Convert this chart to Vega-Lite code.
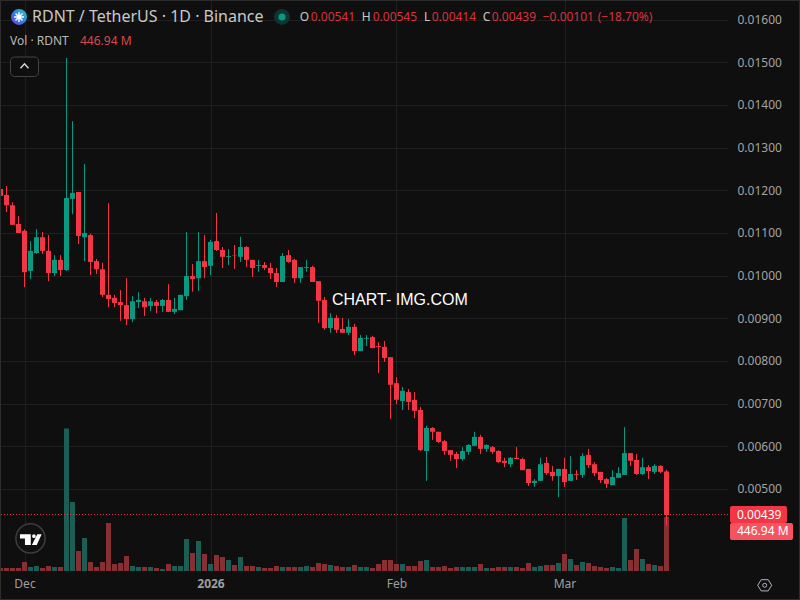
{
  "$schema": "https://vega.github.io/schema/vega-lite/v6.json",
  "width": 728,
  "height": 571,
  "autosize": {"type": "none"},
  "padding": {"left": 0, "top": 0, "right": 72, "bottom": 29},
  "background": "#0f0f0f",
  "config": {"view": {"stroke": null}, "font": "Noto Sans"},
  "datasets": {
    "one": [{}],
    "candles": [
      {"date":"2025-11-27","open":0.01203,"high":0.01203,"low":0.01187,"close":0.01187,"vol":24.8},
      {"date":"2025-11-28","open":0.01189,"high":0.0121,"low":0.01149,"close":0.01165,"vol":24.8},
      {"date":"2025-11-29","open":0.01165,"high":0.01172,"low":0.01119,"close":0.01119,"vol":24.8},
      {"date":"2025-11-30","open":0.01121,"high":0.0114,"low":0.011,"close":0.011,"vol":24.8},
      {"date":"2025-12-01","open":0.01105,"high":0.01109,"low":0.00973,"close":0.01008,"vol":74.5},
      {"date":"2025-12-02","open":0.01011,"high":0.01081,"low":0.00992,"close":0.01058,"vol":33.1},
      {"date":"2025-12-03","open":0.01053,"high":0.01109,"low":0.01051,"close":0.0109,"vol":41.4},
      {"date":"2025-12-04","open":0.0109,"high":0.01102,"low":0.01051,"close":0.01058,"vol":24.8},
      {"date":"2025-12-05","open":0.01058,"high":0.01095,"low":0.00987,"close":0.01006,"vol":41.4},
      {"date":"2025-12-06","open":0.01006,"high":0.01048,"low":0.00999,"close":0.01037,"vol":33.1},
      {"date":"2025-12-07","open":0.01037,"high":0.01048,"low":0.00999,"close":0.01013,"vol":33.1},
      {"date":"2025-12-08","open":0.01013,"high":0.0151,"low":0.01011,"close":0.01182,"vol":1179.5},
      {"date":"2025-12-09","open":0.0118,"high":0.01362,"low":0.01144,"close":0.01194,"vol":571},
      {"date":"2025-12-10","open":0.01196,"high":0.01196,"low":0.01074,"close":0.01093,"vol":165.5},
      {"date":"2025-12-11","open":0.0109,"high":0.01262,"low":0.01034,"close":0.011,"vol":273.1},
      {"date":"2025-12-12","open":0.01095,"high":0.01098,"low":0.01001,"close":0.01032,"vol":74.5},
      {"date":"2025-12-13","open":0.01034,"high":0.01039,"low":0.01004,"close":0.01015,"vol":33.1},
      {"date":"2025-12-14","open":0.01015,"high":0.0103,"low":0.0095,"close":0.00955,"vol":74.5},
      {"date":"2025-12-15","open":0.00955,"high":0.0117,"low":0.00926,"close":0.00945,"vol":397.3},
      {"date":"2025-12-16","open":0.00948,"high":0.00955,"low":0.00926,"close":0.00936,"vol":57.9},
      {"date":"2025-12-17","open":0.00938,"high":0.00966,"low":0.00894,"close":0.00931,"vol":66.2},
      {"date":"2025-12-18","open":0.00931,"high":0.00994,"low":0.00884,"close":0.00898,"vol":124.2},
      {"date":"2025-12-19","open":0.00898,"high":0.00952,"low":0.00891,"close":0.0094,"vol":41.4},
      {"date":"2025-12-20","open":0.00938,"high":0.00961,"low":0.00924,"close":0.00943,"vol":33.1},
      {"date":"2025-12-21","open":0.0094,"high":0.00948,"low":0.00905,"close":0.00926,"vol":33.1},
      {"date":"2025-12-22","open":0.00929,"high":0.00948,"low":0.00917,"close":0.0094,"vol":33.1},
      {"date":"2025-12-23","open":0.00938,"high":0.00943,"low":0.00912,"close":0.00929,"vol":24.8},
      {"date":"2025-12-24","open":0.00929,"high":0.00945,"low":0.00915,"close":0.00943,"vol":16.6},
      {"date":"2025-12-25","open":0.00943,"high":0.0098,"low":0.00915,"close":0.00915,"vol":57.9},
      {"date":"2025-12-26","open":0.00915,"high":0.00948,"low":0.0091,"close":0.00922,"vol":41.4},
      {"date":"2025-12-27","open":0.00919,"high":0.00955,"low":0.00919,"close":0.00955,"vol":41.4},
      {"date":"2025-12-28","open":0.00952,"high":0.01102,"low":0.00943,"close":0.00999,"vol":264.9},
      {"date":"2025-12-29","open":0.00999,"high":0.01027,"low":0.00962,"close":0.00992,"vol":149},
      {"date":"2025-12-30","open":0.00994,"high":0.01102,"low":0.00964,"close":0.01034,"vol":248.3},
      {"date":"2025-12-31","open":0.01034,"high":0.01095,"low":0.00994,"close":0.0102,"vol":140.7},
      {"date":"2026-01-01","open":0.01023,"high":0.01084,"low":0.01001,"close":0.01079,"vol":57.9},
      {"date":"2026-01-02","open":0.01081,"high":0.01147,"low":0.01058,"close":0.0106,"vol":132.4},
      {"date":"2026-01-03","open":0.0106,"high":0.01067,"low":0.01018,"close":0.01044,"vol":115.9},
      {"date":"2026-01-04","open":0.01044,"high":0.01062,"low":0.01025,"close":0.01046,"vol":91},
      {"date":"2026-01-05","open":0.01048,"high":0.01072,"low":0.01016,"close":0.01047,"vol":49.7},
      {"date":"2026-01-06","open":0.01044,"high":0.01091,"low":0.01032,"close":0.01067,"vol":115.9},
      {"date":"2026-01-07","open":0.01067,"high":0.01069,"low":0.0102,"close":0.01037,"vol":41.4},
      {"date":"2026-01-08","open":0.01037,"high":0.01037,"low":0.00997,"close":0.01018,"vol":41.4},
      {"date":"2026-01-09","open":0.01023,"high":0.01037,"low":0.01009,"close":0.01025,"vol":33.1},
      {"date":"2026-01-10","open":0.01025,"high":0.01032,"low":0.01013,"close":0.01018,"vol":24.8},
      {"date":"2026-01-11","open":0.01018,"high":0.0103,"low":0.00992,"close":0.01006,"vol":24.8},
      {"date":"2026-01-12","open":0.01006,"high":0.01018,"low":0.00973,"close":0.00985,"vol":41.4},
      {"date":"2026-01-13","open":0.00985,"high":0.01053,"low":0.00985,"close":0.01046,"vol":33.1},
      {"date":"2026-01-14","open":0.01048,"high":0.0106,"low":0.0103,"close":0.01032,"vol":33.1},
      {"date":"2026-01-15","open":0.01037,"high":0.01039,"low":0.00983,"close":0.00994,"vol":33.1},
      {"date":"2026-01-16","open":0.00994,"high":0.0102,"low":0.00983,"close":0.0102,"vol":33.1},
      {"date":"2026-01-17","open":0.01018,"high":0.01037,"low":0.01009,"close":0.0102,"vol":41.4},
      {"date":"2026-01-18","open":0.0102,"high":0.01023,"low":0.00985,"close":0.00985,"vol":33.1},
      {"date":"2026-01-19","open":0.00987,"high":0.00987,"low":0.00889,"close":0.00941,"vol":66.2},
      {"date":"2026-01-20","open":0.00943,"high":0.0095,"low":0.00873,"close":0.00877,"vol":57.9},
      {"date":"2026-01-21","open":0.00877,"high":0.00912,"low":0.00866,"close":0.00901,"vol":49.7},
      {"date":"2026-01-22","open":0.00901,"high":0.00908,"low":0.00866,"close":0.00873,"vol":41.4},
      {"date":"2026-01-23","open":0.00875,"high":0.00901,"low":0.00866,"close":0.00866,"vol":33.1},
      {"date":"2026-01-24","open":0.00866,"high":0.00898,"low":0.00861,"close":0.0088,"vol":33.1},
      {"date":"2026-01-25","open":0.0088,"high":0.00887,"low":0.00814,"close":0.00823,"vol":49.7},
      {"date":"2026-01-26","open":0.00823,"high":0.00861,"low":0.00823,"close":0.00854,"vol":33.1},
      {"date":"2026-01-27","open":0.00852,"high":0.00861,"low":0.00835,"close":0.00854,"vol":33.1},
      {"date":"2026-01-28","open":0.00856,"high":0.00859,"low":0.0083,"close":0.0083,"vol":24.8},
      {"date":"2026-01-29","open":0.00835,"high":0.00844,"low":0.00772,"close":0.00833,"vol":57.9},
      {"date":"2026-01-30","open":0.00833,"high":0.00847,"low":0.00798,"close":0.00807,"vol":91},
      {"date":"2026-01-31","open":0.00809,"high":0.00809,"low":0.00664,"close":0.00744,"vol":91},
      {"date":"2026-02-01","open":0.00748,"high":0.00762,"low":0.00699,"close":0.00709,"vol":57.9},
      {"date":"2026-02-02","open":0.00706,"high":0.00739,"low":0.00685,"close":0.0073,"vol":57.9},
      {"date":"2026-02-03","open":0.00727,"high":0.00734,"low":0.00685,"close":0.00704,"vol":41.4},
      {"date":"2026-02-04","open":0.00709,"high":0.00727,"low":0.00666,"close":0.00683,"vol":41.4},
      {"date":"2026-02-05","open":0.00685,"high":0.00692,"low":0.00589,"close":0.00591,"vol":82.8},
      {"date":"2026-02-06","open":0.00589,"high":0.00648,"low":0.00519,"close":0.00643,"vol":91},
      {"date":"2026-02-07","open":0.00643,"high":0.00645,"low":0.00615,"close":0.00634,"vol":33.1},
      {"date":"2026-02-08","open":0.00634,"high":0.00634,"low":0.00608,"close":0.0061,"vol":33.1},
      {"date":"2026-02-09","open":0.00612,"high":0.00615,"low":0.0058,"close":0.00589,"vol":41.4},
      {"date":"2026-02-10","open":0.00591,"high":0.00591,"low":0.00566,"close":0.0058,"vol":24.8},
      {"date":"2026-02-11","open":0.00582,"high":0.00587,"low":0.00549,"close":0.0057,"vol":33.1},
      {"date":"2026-02-12","open":0.0057,"high":0.00598,"low":0.00566,"close":0.00589,"vol":33.1},
      {"date":"2026-02-13","open":0.00587,"high":0.00605,"low":0.0058,"close":0.00603,"vol":33.1},
      {"date":"2026-02-14","open":0.00601,"high":0.00634,"low":0.00601,"close":0.00622,"vol":33.1},
      {"date":"2026-02-15","open":0.00622,"high":0.00627,"low":0.00582,"close":0.00594,"vol":57.9},
      {"date":"2026-02-16","open":0.00594,"high":0.00605,"low":0.00587,"close":0.00603,"vol":24.8},
      {"date":"2026-02-17","open":0.00598,"high":0.00601,"low":0.00582,"close":0.00587,"vol":24.8},
      {"date":"2026-02-18","open":0.00589,"high":0.00591,"low":0.00561,"close":0.00563,"vol":33.1},
      {"date":"2026-02-19","open":0.00566,"high":0.00573,"low":0.00551,"close":0.00561,"vol":33.1},
      {"date":"2026-02-20","open":0.00558,"high":0.00575,"low":0.00551,"close":0.00573,"vol":33.1},
      {"date":"2026-02-21","open":0.00573,"high":0.00598,"low":0.0057,"close":0.0057,"vol":33.1},
      {"date":"2026-02-22","open":0.0057,"high":0.00573,"low":0.00544,"close":0.00544,"vol":24.8},
      {"date":"2026-02-23","open":0.00547,"high":0.00547,"low":0.00507,"close":0.00514,"vol":66.2},
      {"date":"2026-02-24","open":0.00514,"high":0.00523,"low":0.00505,"close":0.00519,"vol":33.1},
      {"date":"2026-02-25","open":0.00519,"high":0.00573,"low":0.00519,"close":0.00558,"vol":41.4},
      {"date":"2026-02-26","open":0.00561,"high":0.00575,"low":0.00533,"close":0.00537,"vol":49.7},
      {"date":"2026-02-27","open":0.0054,"high":0.00554,"low":0.00519,"close":0.0053,"vol":49.7},
      {"date":"2026-02-28","open":0.0053,"high":0.00547,"low":0.00481,"close":0.00547,"vol":66.2},
      {"date":"2026-03-01","open":0.00547,"high":0.00573,"low":0.00505,"close":0.00516,"vol":140.7},
      {"date":"2026-03-02","open":0.00519,"high":0.00577,"low":0.00519,"close":0.00535,"vol":99.3},
      {"date":"2026-03-03","open":0.00535,"high":0.00544,"low":0.00521,"close":0.00533,"vol":49.7},
      {"date":"2026-03-04","open":0.00533,"high":0.00584,"low":0.00526,"close":0.00577,"vol":74.5},
      {"date":"2026-03-05","open":0.0058,"high":0.00594,"low":0.00549,"close":0.00556,"vol":66.2},
      {"date":"2026-03-06","open":0.00558,"high":0.00563,"low":0.0053,"close":0.00537,"vol":41.4},
      {"date":"2026-03-07","open":0.0054,"high":0.0054,"low":0.00514,"close":0.00521,"vol":33.1},
      {"date":"2026-03-08","open":0.00523,"high":0.00526,"low":0.00502,"close":0.00512,"vol":24.8},
      {"date":"2026-03-09","open":0.00509,"high":0.00544,"low":0.00509,"close":0.00528,"vol":33.1},
      {"date":"2026-03-10","open":0.00526,"high":0.00551,"low":0.00526,"close":0.00537,"vol":24.8},
      {"date":"2026-03-11","open":0.00533,"high":0.00645,"low":0.00533,"close":0.00584,"vol":438.7},
      {"date":"2026-03-12","open":0.00584,"high":0.00584,"low":0.00554,"close":0.00566,"vol":91},
      {"date":"2026-03-13","open":0.00568,"high":0.00582,"low":0.00533,"close":0.00535,"vol":182.1},
      {"date":"2026-03-14","open":0.00535,"high":0.00573,"low":0.00533,"close":0.00551,"vol":99.3},
      {"date":"2026-03-15","open":0.00551,"high":0.00556,"low":0.00523,"close":0.00542,"vol":57.9},
      {"date":"2026-03-16","open":0.0054,"high":0.00558,"low":0.00535,"close":0.00554,"vol":49.7},
      {"date":"2026-03-17","open":0.00554,"high":0.00556,"low":0.00537,"close":0.0054,"vol":41.4},
      {"date":"2026-03-18","open":0.00541,"high":0.00545,"low":0.00414,"close":0.00439,"vol":446.94}
    ]
  },
  "data": {"name": "candles"},
  "layer": [
    {
      "layer": [
        {
          "mark": {"type": "bar", "size": 5},
          "encoding": {
            "x": {
              "field": "date",
              "type": "temporal",
              "scale": {"type": "utc", "domain": [1764194400000, 1774677600000], "nice": false, "padding": 0},
              "axis": {
                "title": null,
                "orient": "bottom",
                "values": [1764547200000, 1767225600000, 1769904000000, 1772323200000],
                "labelExpr": "utcmonth(datum.value)==0?'2026':utcFormat(datum.value,'%b')",
                "labelFontWeight": {"condition": {"test": "utcmonth(datum.value)==0", "value": "bold"}, "value": "normal"},
                "labelFont": "Noto Sans",
                "labelFontSize": 12,
                "labelColor": "#9e9e9e",
                "labelPadding": 7,
                "labelFlush": false,
                "labelOverlap": false,
                "ticks": false,
                "domain": false,
                "grid": true,
                "gridColor": "#1f1f1f"
              }
            },
            "y": {"field": "vol", "type": "quantitative", "scale": {"domain": [0, 4726]}, "axis": null},
            "color": {"condition": {"test": "datum.close>=datum.open", "value": "#1b5e55"}, "value": "#872f33"}
          }
        }
      ]
    },
    {
      "layer": [
        {
          "mark": {"type": "rule", "strokeWidth": 1},
          "encoding": {
            "x": {"field": "date", "type": "temporal"},
            "y": {
              "field": "low",
              "type": "quantitative",
              "scale": {"domain": [0.003077, 0.01646], "nice": false},
              "axis": {
                "title": null,
                "orient": "right",
                "values": [0.005, 0.006, 0.007, 0.008, 0.009, 0.01, 0.011, 0.012, 0.013, 0.014, 0.015, 0.016],
                "format": ".5f",
                "labelFont": "Noto Sans",
                "labelFontSize": 12,
                "labelColor": "#a3a3a3",
                "labelPadding": 9,
                "ticks": false,
                "domain": false,
                "grid": true,
                "gridColor": "#1f1f1f"
              }
            },
            "y2": {"field": "high"},
            "color": {"condition": {"test": "datum.close>=datum.open", "value": "#089981"}, "value": "#f23645"}
          }
        },
        {
          "mark": {"type": "bar", "size": 5},
          "encoding": {
            "x": {"field": "date", "type": "temporal"},
            "y": {"field": "open", "type": "quantitative"},
            "y2": {"field": "close"},
            "color": {"condition": {"test": "datum.close>=datum.open", "value": "#089981"}, "value": "#f23645"}
          }
        },
        {
          "data": {"name": "one"},
          "mark": {"type": "rule", "color": "#f23645", "strokeWidth": 1, "strokeDash": [1, 2], "yOffset": -0.46},
          "encoding": {"y": {"datum": 0.00439, "type": "quantitative"}}
        },
        {
          "data": {"name": "one"},
          "mark": {"type": "text", "text": "CHART- IMG.COM", "align": "left", "baseline": "middle", "font": "Liberation Sans", "fontSize": 16, "color": "#ffffff"},
          "encoding": {
            "x": {"datum": 1768975200000, "type": "temporal"},
            "y": {"datum": 0.009429, "type": "quantitative"}
          }
        },
        {
          "data": {"name": "one"},
          "mark": {"type": "point", "shape": "circle", "filled": true, "size": 254, "opacity": 1, "fill": {"gradient": "linear", "x1": 0, "y1": 1, "x2": 1, "y2": 0, "stops": [{"offset": 0, "color": "#7a3be0"}, {"offset": 0.5, "color": "#2a7ee8"}, {"offset": 1, "color": "#2dd4b0"}]}},
          "encoding": {
            "x": {"datum": 1764468000000, "type": "temporal"},
            "y": {"datum": 0.016062, "type": "quantitative"}
          }
        },
        {
          "data": {"name": "one"},
          "mark": {"type": "point", "shape": "M-1,0L1,0M0,-1L0,1M-0.7,-0.7L0.7,0.7M-0.7,0.7L0.7,-0.7", "filled": false, "size": 100, "opacity": 1, "color": "#ffffff", "strokeWidth": 1.5},
          "encoding": {
            "x": {"datum": 1764468000000, "type": "temporal"},
            "y": {"datum": 0.016062, "type": "quantitative"}
          }
        },
        {
          "data": {"name": "one"},
          "mark": {"type": "text", "text": "RDNT / TetherUS · 1D · Binance", "align": "left", "baseline": "middle", "fontSize": 16, "color": "#c8c8c8"},
          "encoding": {
            "x": {"datum": 1764655200000, "type": "temporal"},
            "y": {"datum": 0.016062, "type": "quantitative"}
          }
        },
        {
          "data": {"name": "one"},
          "mark": {"type": "point", "shape": "circle", "filled": true, "size": 254, "opacity": 1, "color": "#0e3530"},
          "encoding": {
            "x": {"datum": 1768255200000, "type": "temporal"},
            "y": {"datum": 0.016062, "type": "quantitative"}
          }
        },
        {
          "data": {"name": "one"},
          "mark": {"type": "point", "shape": "circle", "filled": true, "size": 50, "opacity": 1, "color": "#089981"},
          "encoding": {
            "x": {"datum": 1768255200000, "type": "temporal"},
            "y": {"datum": 0.016062, "type": "quantitative"}
          }
        },
        {
          "data": {"name": "one"},
          "mark": {"type": "text", "text": "O", "align": "left", "baseline": "middle", "fontSize": 12, "color": "#c8c8c8"},
          "encoding": {"x": {"datum": 1768510080000, "type": "temporal"}, "y": {"datum": 0.016062, "type": "quantitative"}}
        },
        {
          "data": {"name": "one"},
          "mark": {"type": "text", "text": "0.00541", "align": "left", "baseline": "middle", "fontSize": 12, "color": "#d8323f"},
          "encoding": {"x": {"datum": 1768668480000, "type": "temporal"}, "y": {"datum": 0.016062, "type": "quantitative"}}
        },
        {
          "data": {"name": "one"},
          "mark": {"type": "text", "text": "H", "align": "left", "baseline": "middle", "fontSize": 12, "color": "#c8c8c8"},
          "encoding": {"x": {"datum": 1769402880000, "type": "temporal"}, "y": {"datum": 0.016062, "type": "quantitative"}}
        },
        {
          "data": {"name": "one"},
          "mark": {"type": "text", "text": "0.00545", "align": "left", "baseline": "middle", "fontSize": 12, "color": "#d8323f"},
          "encoding": {"x": {"datum": 1769561280000, "type": "temporal"}, "y": {"datum": 0.016062, "type": "quantitative"}}
        },
        {
          "data": {"name": "one"},
          "mark": {"type": "text", "text": "L", "align": "left", "baseline": "middle", "fontSize": 12, "color": "#c8c8c8"},
          "encoding": {"x": {"datum": 1770300000000, "type": "temporal"}, "y": {"datum": 0.016062, "type": "quantitative"}}
        },
        {
          "data": {"name": "one"},
          "mark": {"type": "text", "text": "0.00414", "align": "left", "baseline": "middle", "fontSize": 12, "color": "#d8323f"},
          "encoding": {"x": {"datum": 1770410880000, "type": "temporal"}, "y": {"datum": 0.016062, "type": "quantitative"}}
        },
        {
          "data": {"name": "one"},
          "mark": {"type": "text", "text": "C", "align": "left", "baseline": "middle", "fontSize": 12, "color": "#c8c8c8"},
          "encoding": {"x": {"datum": 1771145280000, "type": "temporal"}, "y": {"datum": 0.016062, "type": "quantitative"}}
        },
        {
          "data": {"name": "one"},
          "mark": {"type": "text", "text": "0.00439", "align": "left", "baseline": "middle", "fontSize": 12, "color": "#d8323f"},
          "encoding": {"x": {"datum": 1771274880000, "type": "temporal"}, "y": {"datum": 0.016062, "type": "quantitative"}}
        },
        {
          "data": {"name": "one"},
          "mark": {"type": "text", "text": "−0.00101", "align": "left", "baseline": "middle", "fontSize": 12, "color": "#d8323f"},
          "encoding": {"x": {"datum": 1772009280000, "type": "temporal"}, "y": {"datum": 0.016062, "type": "quantitative"}}
        },
        {
          "data": {"name": "one"},
          "mark": {"type": "text", "text": "(−18.70%)", "align": "left", "baseline": "middle", "fontSize": 12, "color": "#d8323f"},
          "encoding": {"x": {"datum": 1772801280000, "type": "temporal"}, "y": {"datum": 0.016062, "type": "quantitative"}}
        },
        {
          "data": {"name": "one"},
          "mark": {"type": "text", "text": "Vol · RDNT", "align": "left", "baseline": "middle", "fontSize": 12, "color": "#b8b8b8"},
          "encoding": {"x": {"datum": 1764338400000, "type": "temporal"}, "y": {"datum": 0.015499, "type": "quantitative"}}
        },
        {
          "data": {"name": "one"},
          "mark": {"type": "text", "text": "446.94 M", "align": "left", "baseline": "middle", "fontSize": 12, "color": "#d8484f"},
          "encoding": {"x": {"datum": 1765346400000, "type": "temporal"}, "y": {"datum": 0.015499, "type": "quantitative"}}
        },
        {
          "data": {"name": "one"},
          "mark": {"type": "rect", "fill": "#0f0f0f", "stroke": "#444444", "strokeWidth": 1, "cornerRadius": 4},
          "encoding": {
            "x": {"datum": 1764345600000, "type": "temporal"},
            "x2": {"datum": 1764748800000},
            "y": {"datum": 0.015124, "type": "quantitative"},
            "y2": {"datum": 0.014667}
          }
        },
        {
          "data": {"name": "one"},
          "mark": {"type": "point", "shape": "M-1,0.55L0,-0.55L1,0.55", "filled": false, "size": 64, "opacity": 1, "color": "#d1d4dc", "strokeWidth": 1.5},
          "encoding": {
            "x": {"datum": 1764547200000, "type": "temporal"},
            "y": {"datum": 0.014913, "type": "quantitative"}
          }
        },
        {
          "data": {"name": "one"},
          "mark": {"type": "point", "shape": "circle", "filled": true, "size": 855, "opacity": 1, "fill": "#111111", "stroke": "#3d3d3d", "strokeWidth": 1.5},
          "encoding": {
            "x": {"datum": 1764633600000, "type": "temporal"},
            "y": {"datum": 0.003839, "type": "quantitative"}
          }
        },
        {
          "data": {"name": "one"},
          "mark": {"type": "point", "shape": "M-1,-0.49L0,-0.49L0,0.49L-0.54,0.49L-0.54,-0.12L-1,-0.12ZM0.12,-0.32A0.17,0.17 0 1 1 0.46,-0.32A0.17,0.17 0 1 1 0.12,-0.32ZM0.6,-0.49L1,-0.49L0.55,0.49L0.1,0.49Z", "filled": true, "size": 471, "opacity": 1, "color": "#ffffff"},
          "encoding": {
            "x": {"datum": 1764637920000, "type": "temporal"},
            "y": {"datum": 0.003811, "type": "quantitative"}
          }
        },
        {
          "data": {"name": "one"},
          "mark": {"type": "rect", "fill": "#f23645", "cornerRadius": 2},
          "encoding": {
            "x": {"datum": 1774706400000, "type": "temporal"},
            "x2": {"datum": 1775527200000},
            "y": {"datum": 0.004601, "type": "quantitative"},
            "y2": {"datum": 0.004202}
          }
        },
        {
          "data": {"name": "one"},
          "mark": {"type": "rect", "fill": "#f7525f", "cornerRadius": 2},
          "encoding": {
            "x": {"datum": 1774706400000, "type": "temporal"},
            "x2": {"datum": 1775613600000},
            "y": {"datum": 0.004202, "type": "quantitative"},
            "y2": {"datum": 0.003804}
          }
        },
        {
          "data": {"name": "one"},
          "mark": {"type": "text", "text": "0.00439", "align": "left", "baseline": "middle", "fontSize": 12, "color": "#ffffff"},
          "encoding": {"x": {"datum": 1774807200000, "type": "temporal"}, "y": {"datum": 0.004401, "type": "quantitative"}}
        },
        {
          "data": {"name": "one"},
          "mark": {"type": "text", "text": "446.94 M", "align": "left", "baseline": "middle", "fontSize": 12, "color": "#ffffff"},
          "encoding": {"x": {"datum": 1774807200000, "type": "temporal"}, "y": {"datum": 0.004003, "type": "quantitative"}}
        },
        {
          "data": {"name": "one"},
          "mark": {"type": "point", "shape": "M-1,0L-0.5,-0.8L0.5,-0.8L1,0L0.5,0.8L-0.5,0.8Z", "filled": false, "size": 196, "opacity": 1, "color": "#b2b5be", "strokeWidth": 1},
          "encoding": {
            "x": {"datum": 1775206080000, "type": "temporal"},
            "y": {"datum": 0.002742, "type": "quantitative"}
          }
        },
        {
          "data": {"name": "one"},
          "mark": {"type": "point", "shape": "circle", "filled": false, "size": 16, "opacity": 1, "color": "#b2b5be", "strokeWidth": 1},
          "encoding": {
            "x": {"datum": 1775206080000, "type": "temporal"},
            "y": {"datum": 0.002742, "type": "quantitative"}
          }
        },
        {
          "data": {"name": "one"},
          "mark": {"type": "rect", "fillOpacity": 0, "stroke": "#2e2e2e", "strokeWidth": 1},
          "encoding": {
            "x": {"datum": 1764201600000, "type": "temporal"},
            "x2": {"datum": 1775707200000},
            "y": {"datum": 0.01645, "type": "quantitative"},
            "y2": {"datum": 0.002409}
          }
        }
      ]
    }
  ],
  "resolve": {"scale": {"y": "independent"}, "axis": {"y": "independent"}}
}
